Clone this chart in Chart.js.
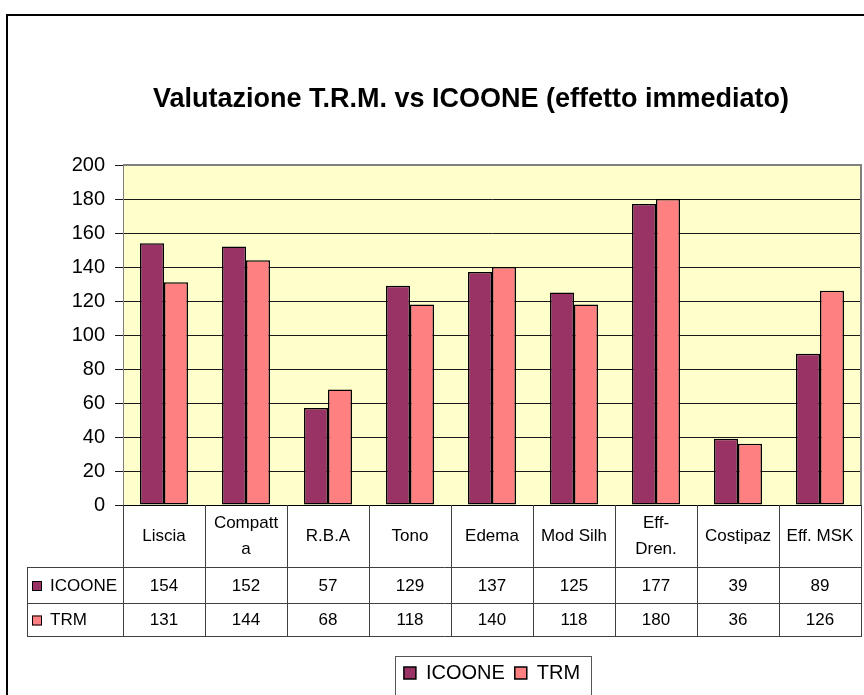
<!DOCTYPE html>
<html><head><meta charset="utf-8">
<script src="https://cdn.jsdelivr.net/npm/chart.js@4.4.1/dist/chart.umd.min.js"></script>
<style>html,body{margin:0;padding:0;background:#fff;}canvas{display:block;}</style>
</head><body>
<canvas id="c" width="864" height="695"></canvas>
<script>
// ---- data ----
const chartTitle = "Valutazione T.R.M. vs ICOONE (effetto immediato)";
const categories = ["Liscia", ["Compatt", "a"], "R.B.A", "Tono", "Edema", "Mod Silh", ["Eff-", "Dren."], "Costipaz", "Eff. MSK"];
const seriesNames = ["ICOONE", "TRM"];
const icooneValues = [154, 152, 57, 129, 137, 125, 177, 39, 89];
const trmValues = [131, 144, 68, 118, 140, 118, 180, 36, 126];
const yTickValues = [0, 20, 40, 60, 80, 100, 120, 140, 160, 180, 200];

// ---- styles ----
const FONT = '"Liberation Sans", Arial, sans-serif';
const seriesColors = ['#993366', '#FF8080'];
const seriesValues = [icooneValues, trmValues];

const framePlugin = {
  id: 'frame',
  beforeDraw(chart) {
    const { ctx, chartArea: a } = chart;
    ctx.save();
    ctx.fillStyle = '#ffffff';
    ctx.fillRect(0, 0, chart.width, chart.height);
    ctx.strokeStyle = '#000';
    ctx.lineWidth = 2;
    ctx.beginPath();
    ctx.moveTo(7, chart.height + 5);
    ctx.lineTo(7, 15);
    ctx.lineTo(chart.width + 5, 15);
    ctx.stroke();
    ctx.fillStyle = '#FFFFCC';
    ctx.fillRect(a.left, a.top, a.right - a.left, a.bottom - a.top);
    ctx.restore();
  },
  afterDraw(chart) {
    const { ctx, chartArea: a } = chart;
    ctx.save();
    // plot border top / right
    ctx.strokeStyle = '#808080';
    ctx.lineWidth = 2;
    ctx.beginPath();
    ctx.moveTo(a.left, a.top);
    ctx.lineTo(a.right, a.top);
    ctx.lineTo(a.right, a.bottom);
    ctx.stroke();

    // data table
    const xs = chart.scales.x;
    const n = categories.length;
    const step = xs.getPixelForValue(1) - xs.getPixelForValue(0);
    const bounds = [];
    for (let i = 0; i < n; i++) bounds.push(xs.getPixelForValue(i) - step / 2);
    bounds.push(xs.getPixelForValue(n - 1) + step / 2);
    const top = a.bottom;
    const rows = [top + 62, top + 98, top + 131];
    const tableLeft = 27;
    const al = v => Math.round(v) + 0.5;
    ctx.strokeStyle = '#404040';
    ctx.lineWidth = 1;
    ctx.beginPath();
    bounds.forEach(b => { ctx.moveTo(al(b), top); ctx.lineTo(al(b), rows[2]); });
    ctx.moveTo(al(tableLeft), rows[0]); ctx.lineTo(al(tableLeft), rows[2]);
    rows.forEach(r => { ctx.moveTo(tableLeft, al(r)); ctx.lineTo(bounds[n] + 1, al(r)); });
    ctx.stroke();

    ctx.fillStyle = '#000';
    ctx.font = '17px ' + FONT;
    ctx.textBaseline = 'middle';
    seriesValues.forEach((vals, s) => {
      const cy = (s === 0 ? (rows[0] + rows[1]) : (rows[1] + rows[2])) / 2 + 1;
      ctx.textAlign = 'center';
      vals.forEach((v, i) => ctx.fillText(String(v), xs.getPixelForValue(i), cy));
      // row key
      ctx.fillStyle = seriesColors[s];
      ctx.fillRect(32, cy - 5, 10, 10);
      ctx.strokeStyle = '#000';
      ctx.strokeRect(32.5, cy - 4.5, 9, 9);
      ctx.fillStyle = '#000';
      ctx.textAlign = 'left';
      ctx.fillText(seriesNames[s], 50, cy);
    });

    // legend frame
    const hb = chart.legend.legendHitBoxes;
    if (hb && hb.length) {
      const l = hb[0].left - 9;
      const last = hb[hb.length - 1];
      const r = last.left + last.width + 11;
      const t = chart.legend.top + 3;
      ctx.strokeStyle = '#555';
      ctx.lineWidth = 1;
      ctx.strokeRect(al(l), al(t), Math.round(r - l), chart.height + 10 - t);
    }
    ctx.restore();
  }
};

new Chart(document.getElementById('c'), {
  type: 'bar',
  data: {
    labels: categories,
    datasets: seriesNames.map((name, s) => ({
      label: name,
      data: seriesValues[s],
      backgroundColor: seriesColors[s],
      borderColor: '#000',
      borderWidth: 1.5,
      borderSkipped: false,
      categoryPercentage: 0.585,
      barPercentage: 1.0,
      yAxisID: 'y'
    }))
  },
  options: {
    responsive: false,
    devicePixelRatio: 1,
    animation: false,
    events: [],
    layout: { padding: { top: 0, left: 0, right: -78, bottom: 2 } },
    plugins: {
      title: {
        display: true,
        text: chartTitle,
        color: '#000',
        font: { family: FONT, size: 27, weight: 'bold' },
        padding: { top: 83, bottom: 49.6 }
      },
      legend: {
        display: true,
        position: 'bottom',
        fullSize: false,
        labels: {
          color: '#000',
          font: { family: FONT, size: 20 },
          boxWidth: 12,
          boxHeight: 12,
          padding: 10
        }
      },
      tooltip: { enabled: false }
    },
    scales: {
      x: {
        grid: { display: false, drawTicks: false },
        border: { display: true, color: '#000', width: 1 },
        ticks: {
          color: '#000',
          font: { family: FONT, size: 17, lineHeight: '26px' },
          autoSkip: false,
          maxRotation: 0,
          minRotation: 0,
          crossAlign: 'center',
          padding: 18
        },
        afterFit(s) { s.height = 148; s.paddingLeft = 0; s.paddingRight = 0; }
      },
      y: {
        position: 'left',
        min: 0,
        max: 200,
        afterBuildTicks(s) { s.ticks = yTickValues.map(v => ({ value: v })); },
        grid: { color: '#1a1a1a', lineWidth: 1, tickLength: 8, drawTicks: true },
        border: { display: true, color: '#808080', width: 1 },
        ticks: { color: '#000', font: { family: FONT, size: 20 }, padding: 10 },
        afterFit(s) { s.width = 123; }
      },
      y2: {
        position: 'right',
        display: true,
        min: 0,
        max: 200,
        grid: { display: false, drawTicks: false },
        border: { display: false },
        ticks: { display: false },
        afterFit(s) { s.width = 81; }
      }
    }
  },
  plugins: [framePlugin]
});
</script>
</body></html>
